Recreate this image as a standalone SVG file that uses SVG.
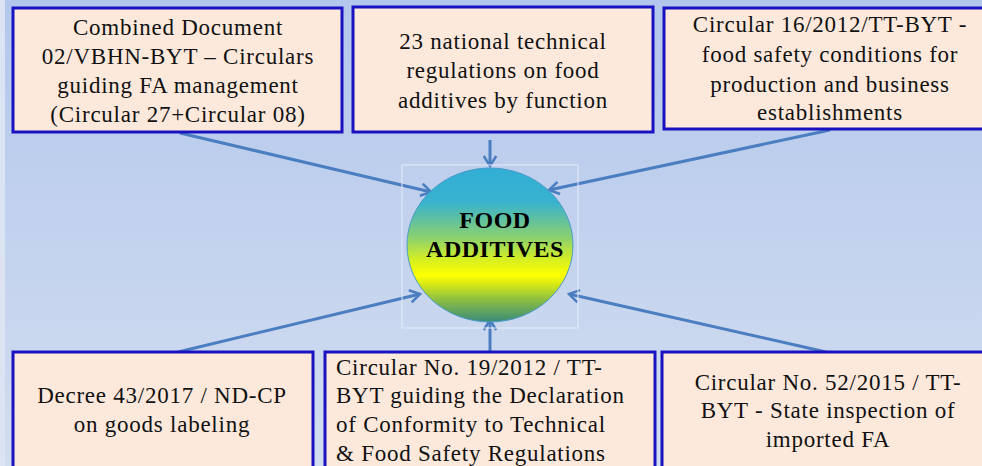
<svg xmlns="http://www.w3.org/2000/svg" width="982" height="466" viewBox="0 0 982 466">
<defs>
<linearGradient id="bg" x1="0" y1="0" x2="0" y2="1">
<stop offset="0" stop-color="#B3C7EC"/>
<stop offset="1" stop-color="#D2DDF0"/>
</linearGradient>
<linearGradient id="ball" x1="0" y1="0" x2="0" y2="1">
<stop offset="0" stop-color="#32AED6"/>
<stop offset="0.22" stop-color="#38B2CF"/>
<stop offset="0.45" stop-color="#8AD070"/>
<stop offset="0.6" stop-color="#D8F020"/>
<stop offset="0.7" stop-color="#FFFF00"/>
<stop offset="0.85" stop-color="#90C040"/>
<stop offset="1" stop-color="#3A8A7A"/>
</linearGradient>
<marker id="ah" viewBox="0 0 12 12" refX="10" refY="6" markerWidth="5" markerHeight="5" orient="auto" markerUnits="strokeWidth">
<polyline points="2,1 10,6 2,11" fill="none" stroke="#4A7EC0" stroke-width="2"/>
</marker>
<style>
.box{fill:#FDE9DC;stroke:#1A12C0;stroke-width:3}
.t{font-size:23px;letter-spacing:0.75px;fill:#111}
.c{text-anchor:middle}
.con{stroke:#4A7EC0;stroke-width:3;fill:none;marker-end:url(#ah)}
</style>
</defs>
<rect width="982" height="466" fill="url(#bg)"/>
<rect x="0" y="0" width="5" height="466" fill="#DCE4F4"/>
<g id="connectors">
<line class="con" x1="180" y1="133" x2="431" y2="192"/>
<line class="con" x1="490" y1="140" x2="490" y2="166"/>
<line class="con" x1="830" y1="130" x2="549" y2="190"/>
<line class="con" x1="178" y1="352" x2="420" y2="294"/>
<line class="con" x1="490" y1="352" x2="490" y2="320"/>
<line class="con" x1="826" y1="352" x2="569" y2="294"/>
</g>
<g id="n1">
<rect class="box" x="13" y="8" width="329" height="124"/>
<text class="t c" font-family="Liberation Serif, serif"><tspan x="178" y="35">Combined Document</tspan><tspan x="178" y="64">02/VBHN-BYT – Circulars</tspan><tspan x="178" y="93">guiding FA management</tspan><tspan x="178" y="122">(Circular 27+Circular 08)</tspan></text>
</g>
<g id="n2">
<rect class="box" x="353" y="7" width="300" height="125"/>
<text class="t c" font-family="Liberation Serif, serif"><tspan x="503" y="49">23 national technical</tspan><tspan x="503" y="78">regulations on food</tspan><tspan x="503" y="108">additives by function</tspan></text>
</g>
<g id="n3">
<rect class="box" x="664" y="8" width="330" height="121"/>
<text class="t c" font-family="Liberation Serif, serif"><tspan x="830" y="32">Circular 16/2012/TT-BYT -</tspan><tspan x="830" y="62">food safety conditions for</tspan><tspan x="830" y="92">production and business</tspan><tspan x="830" y="120">establishments</tspan></text>
</g>
<g id="center">
<rect x="402" y="165" width="176" height="163" fill="none" stroke="#E4ECF8" stroke-width="1"/>
<ellipse cx="490" cy="245" rx="83" ry="77" fill="url(#ball)" stroke="#4A9CC8" stroke-width="1"/>
<text text-anchor="middle" font-family="Liberation Serif, serif" font-weight="bold" font-size="24" letter-spacing="0.5" fill="#000"><tspan x="495" y="228">FOOD</tspan><tspan x="495" y="257">ADDITIVES</tspan></text>
</g>
<g id="n4">
<rect class="box" x="13" y="352" width="300" height="120"/>
<text class="t c" font-family="Liberation Serif, serif"><tspan x="162" y="403">Decree 43/2017 / ND-CP</tspan><tspan x="162" y="432">on goods labeling</tspan></text>
</g>
<g id="n5">
<rect class="box" x="325" y="352" width="330" height="120"/>
<text class="t" font-family="Liberation Serif, serif"><tspan x="336" y="375">Circular No. 19/2012 / TT-</tspan><tspan x="336" y="403">BYT guiding the Declaration</tspan><tspan x="336" y="432">of Conformity to Technical</tspan><tspan x="336" y="461">&amp; Food Safety Regulations</tspan></text>
</g>
<g id="n6">
<rect class="box" x="662" y="352" width="330" height="120"/>
<text class="t c" font-family="Liberation Serif, serif"><tspan x="828" y="390">Circular No. 52/2015 / TT-</tspan><tspan x="828" y="418">BYT - State inspection of</tspan><tspan x="828" y="447">imported FA</tspan></text>
</g>
</svg>
